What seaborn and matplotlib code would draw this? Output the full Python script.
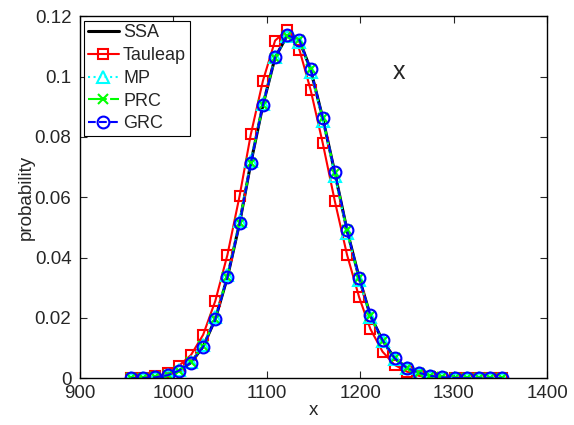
import matplotlib
matplotlib.use("Agg")
import matplotlib.pyplot as plt
import matplotlib.ticker as mticker
import seaborn as sns

x_vals = [955, 968, 981, 994, 1006, 1019, 1032, 1045, 1058, 1071, 1083, 1096,
          1109, 1122, 1135, 1147, 1160, 1173, 1186, 1199, 1211, 1224, 1237, 1250,
          1263, 1275, 1288, 1301, 1314, 1327, 1339, 1352]

ssa = [0.0000, 0.0001, 0.0003, 0.0010, 0.0025, 0.0052, 0.0105, 0.0196, 0.0335, 0.0514,
       0.0713, 0.0906, 0.1063, 0.1136, 0.1120, 0.1023, 0.0862, 0.0680, 0.0490, 0.0332,
       0.0207, 0.0125, 0.0066, 0.0034, 0.0018, 0.0008, 0.0003, 0.0001, 0.0000, 0.0000,
       0.0000, 0.0000]
tauleap = [0.0000, 0.0002, 0.0006, 0.0017, 0.0041, 0.0077, 0.0144, 0.0256, 0.0409, 0.0604,
           0.0808, 0.0986, 0.1119, 0.1155, 0.1089, 0.0956, 0.0779, 0.0586, 0.0409, 0.0268,
           0.0163, 0.0088, 0.0044, 0.0022, 0.0008, 0.0003, 0.0001, 0.0000, 0.0000, 0.0000,
           0.0000, 0.0000]
mp = [0.0000, 0.0001, 0.0003, 0.0011, 0.0027, 0.0055, 0.0110, 0.0203, 0.0343, 0.0522,
      0.0720, 0.0910, 0.1064, 0.1135, 0.1115, 0.1015, 0.0853, 0.0671, 0.0482, 0.0326,
      0.0203, 0.0122, 0.0064, 0.0033, 0.0017, 0.0008, 0.0003, 0.0001, 0.0000, 0.0000,
      0.0000, 0.0000]
prc = [0.0000, 0.0001, 0.0003, 0.0010, 0.0025, 0.0053, 0.0106, 0.0197, 0.0336, 0.0515,
       0.0714, 0.0906, 0.1062, 0.1135, 0.1121, 0.1024, 0.0862, 0.0680, 0.0490, 0.0331,
       0.0207, 0.0125, 0.0066, 0.0034, 0.0018, 0.0008, 0.0003, 0.0001, 0.0000, 0.0000,
       0.0000, 0.0000]
grc = [0.0000, 0.0001, 0.0003, 0.0010, 0.0025, 0.0052, 0.0104, 0.0195, 0.0334, 0.0513,
       0.0712, 0.0906, 0.1063, 0.1137, 0.1121, 0.1024, 0.0863, 0.0682, 0.0491, 0.0333,
       0.0208, 0.0126, 0.0066, 0.0034, 0.0018, 0.0008, 0.0003, 0.0001, 0.0000, 0.0000,
       0.0000, 0.0000]

series_names = ["SSA", "Tauleap", "MP", "PRC", "GRC"]
x_ticks = [900, 1000, 1100, 1200, 1300, 1400]
y_ticks = [0, 0.02, 0.04, 0.06, 0.08, 0.1, 0.12]

sns.set_style("ticks")
plt.rcParams['font.family'] = ['Liberation Sans', 'DejaVu Sans']

fig = plt.figure(figsize=(5.74, 4.25), dpi=100)
ax = fig.add_axes([0.139, 0.110, 0.814, 0.852])

styles = [
    dict(color='black', linestyle='-', marker=None, linewidth=2.2),
    dict(color='red', linestyle='-', marker='s', linewidth=1.5, markersize=7.5),
    dict(color='cyan', linestyle=':', marker='^', linewidth=1.5, markersize=8),
    dict(color='#00ff00', linestyle='-.', marker='x', linewidth=1.5, markersize=6.5),
    dict(color='blue', linestyle='--', marker='o', linewidth=1.5, markersize=8.5),
]
data = [ssa, tauleap, mp, prc, grc]

for name, vals, st in zip(series_names, data, styles):
    kw = dict(color=st['color'], linestyle=st['linestyle'], linewidth=st['linewidth'])
    if st['marker'] is not None:
        kw.update(marker=st['marker'], markersize=st['markersize'],
                  markerfacecolor='none', markeredgecolor=st['color'],
                  markeredgewidth=1.5)
    sns.lineplot(x=x_vals, y=vals, ax=ax, label=name, errorbar=None, sort=False, **kw)

ax.set_xlim(900, 1400)
ax.set_ylim(0, 0.12)
ax.set_xticks(x_ticks)
ax.set_yticks(y_ticks)
ax.yaxis.set_major_formatter(mticker.FormatStrFormatter('%g'))
ax.tick_params(direction='in', top=True, right=True, length=5, width=0.8,
               labelsize=13.5)
ax.tick_params(axis='y', pad=6)
ax.tick_params(axis='x', pad=5)
for sp in ax.spines.values():
    sp.set_linewidth(1.0)
    sp.set_color('black')

ax.set_xlabel("x", fontsize=13.5, labelpad=0)
ax.set_ylabel("probability", fontsize=13.5, labelpad=0)
ax.text(1242, 0.1015, "x", fontsize=18, ha='center', va='center')

leg = ax.legend(loc='upper left', numpoints=1, fancybox=False, edgecolor='black',
                framealpha=1, fontsize=13, handlelength=1.7, labelspacing=0.32,
                borderaxespad=0.25, borderpad=0.2, handletextpad=0.25)
leg.get_frame().set_linewidth(0.8)

fig.savefig("out.png", dpi=100)
